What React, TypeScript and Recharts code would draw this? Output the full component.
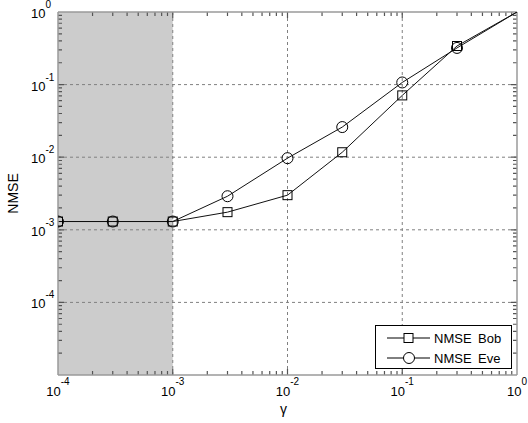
import React from 'react';
import { LineChart, Line, XAxis, YAxis, ReferenceArea, ReferenceLine, Legend } from 'recharts';

// gamma values (x) and NMSE
const gamma = [1e-4, 3e-4, 1e-3, 3e-3, 1e-2, 3e-2, 1e-1, 3e-1, 1];
const nmseBob = [1.3e-3, 1.3e-3, 1.3e-3, 1.75e-3, 3.0e-3, 1.17e-2, 0.071, 0.34, 1];
const nmseEve = [1.3e-3, 1.3e-3, 1.3e-3, 2.9e-3, 9.7e-3, 0.026, 0.107, 0.32, 1];

const xDecades = [1e-4, 1e-3, 1e-2, 1e-1, 1];
const yDecades = [1e-5, 1e-4, 1e-3, 1e-2, 1e-1, 1];
const yLabelled = [1e-4, 1e-3, 1e-2, 1e-1, 1];
const shaded = [1e-4, 1e-3];

// interior tick positions 1..9 x decade (domain ends excluded)
const tickValues = (decades: number[]) => {
  const out: number[] = [];
  decades.slice(0, -1).forEach((d, i) => {
    for (let m = i === 0 ? 2 : 1; m < 10; m++) out.push(d * m);
  });
  return out;
};
const xTickMarks = tickValues(xDecades);
const yTickMarks = tickValues(yDecades);

const data = gamma.map((g, i) => ({ gamma: g, bob: nmseBob[i], eve: nmseEve[i] }));

const FONT = '"Liberation Sans", Arial, sans-serif';
const FRAME = '#9a9a9a';
const TICK = '#555555';

const isDecade = (v: number) => Math.abs(Math.log10(v) - Math.round(Math.log10(v))) < 1e-6;

// draws only short inward pieces at both ends of the reference line
const tickPair = (len: number) => (p: any) => {
  const { x1, y1, x2, y2 } = p;
  if (Math.abs(x1 - x2) < 0.01) {
    const top = Math.min(y1, y2);
    const bot = Math.max(y1, y2);
    return <path d={`M${x1},${bot} V${bot - len} M${x1},${top} V${top + len}`} stroke={TICK} strokeWidth={1.2} fill="none" />;
  }
  const l = Math.min(x1, x2);
  const r = Math.max(x1, x2);
  return <path d={`M${l},${y1} H${l + len} M${r},${y1} H${r - len}`} stroke={TICK} strokeWidth={1.2} fill="none" />;
};

const XTick = (props: any) => {
  const { x, y, payload } = props;
  const e = Math.round(Math.log10(payload.value));
  return (
    <text x={x} y={y + 21} textAnchor="middle" fontFamily={FONT} fontSize={13} fill="#000">
      <tspan>10</tspan>
      <tspan dy={-11} fontSize={10}>{e}</tspan>
    </text>
  );
};

const YTick = (props: any) => {
  const { x, y, payload } = props;
  if (!yLabelled.includes(payload.value)) return <g />;
  const e = Math.round(Math.log10(payload.value));
  return (
    <text x={x - 27} y={y + 6} textAnchor="start" fontFamily={FONT} fontSize={13} fill="#000">
      <tspan>10</tspan>
      <tspan dy={-10} fontSize={10}>{e}</tspan>
    </text>
  );
};

const SquareDot = (props: any) => {
  const { cx, cy, payload, index } = props;
  if (payload.gamma >= 1) return <g key={`s-${index}`} />;
  return <rect key={`s-${index}`} x={cx - 4.5} y={cy - 4.5} width={9} height={9} fill="none" stroke="#000" strokeWidth={1} />;
};

const CircleDot = (props: any) => {
  const { cx, cy, payload, index } = props;
  if (payload.gamma >= 1) return <g key={`c-${index}`} />;
  return <circle key={`c-${index}`} cx={cx} cy={cy} r={5.5} fill="none" stroke="#000" strokeWidth={1} />;
};

const YLabel = (props: any) => {
  const vb = props.viewBox || {};
  const cx = 13;
  const cy = vb.y + vb.height / 2;
  return (
    <text x={cx} y={cy} transform={`rotate(-90 ${cx} ${cy})`} textAnchor="middle" dominantBaseline="central"
      fontFamily={FONT} fontSize={14} fill="#000">NMSE</text>
  );
};

const LegendBox = () => (
  <svg width={137} height={44} style={{ display: 'block' }}>
    <rect x={0.5} y={0.5} width={136} height={43} fill="#fff" stroke="#000" />
    <line x1={12} x2={55} y1={13} y2={13} stroke="#000" />
    <rect x={29} y={8.5} width={9} height={9} fill="#fff" stroke="#000" />
    <text x={59} y={18} fontFamily={FONT} fontSize={13} fill="#000">
      <tspan>NMSE</tspan>
      <tspan x={103}>Bob</tspan>
    </text>
    <line x1={12} x2={55} y1={33} y2={33} stroke="#000" />
    <circle cx={34} cy={33} r={5.5} fill="#fff" stroke="#000" />
    <text x={59} y={38} fontFamily={FONT} fontSize={13} fill="#000">
      <tspan>NMSE</tspan>
      <tspan x={103}>Eve</tspan>
    </text>
  </svg>
);

export default function App() {
  return (
    <div style={{ position: 'absolute', left: 0, top: 0, width: 528, height: 423, background: '#fff', fontFamily: FONT }}>
      <LineChart width={528} height={423} data={data} margin={{ top: 12, right: 11, left: 0, bottom: 0 }}>
        <ReferenceArea xAxisId="x" yAxisId="y" x1={shaded[0]} x2={shaded[1]} fill="#cccccc" fillOpacity={1} stroke="none" ifOverflow="hidden" />

        {/* dashed decade grid */}
        {xDecades.slice(1, -1).map((v) => (
          <ReferenceLine key={`gx-${v}`} xAxisId="x" yAxisId="y" x={v} stroke="#808080" strokeDasharray="3 3" />
        ))}
        {yDecades.slice(1, -1).map((v) => (
          <ReferenceLine key={`gy-${v}`} xAxisId="x" yAxisId="y" y={v} stroke="#808080" strokeDasharray="3 3" />
        ))}

        {/* inward tick marks on all four sides */}
        {xTickMarks.map((v) => (
          <ReferenceLine key={`tx-${v}`} xAxisId="x" yAxisId="y" x={v} stroke={TICK} shape={tickPair(isDecade(v) ? 6 : 4)} />
        ))}
        {yTickMarks.map((v) => (
          <ReferenceLine key={`ty-${v}`} xAxisId="x" yAxisId="y" y={v} stroke={TICK} shape={tickPair(isDecade(v) ? 6 : 4)} />
        ))}

        {/* top and right frame */}
        <ReferenceLine xAxisId="x" yAxisId="y" y={yDecades[yDecades.length - 1]} stroke={FRAME} strokeWidth={1.5} />
        <ReferenceLine xAxisId="x" yAxisId="y" x={xDecades[xDecades.length - 1]} stroke={FRAME} strokeWidth={1.5} />

        <XAxis
          xAxisId="x"
          dataKey="gamma"
          type="number"
          scale="log"
          domain={[1e-4, 1]}
          allowDataOverflow
          ticks={xDecades}
          tick={<XTick />}
          tickLine={false}
          tickSize={0}
          tickMargin={0}
          axisLine={{ stroke: FRAME, strokeWidth: 1.5 }}
          height={48}
          interval={0}
          label={{ value: 'γ', position: 'insideBottom', offset: 9, dx: -4, fill: '#000', fontSize: 14, fontFamily: FONT }}
        />
        <YAxis
          yAxisId="y"
          type="number"
          scale="log"
          domain={[1e-5, 1]}
          allowDataOverflow
          ticks={yDecades}
          tick={<YTick />}
          tickLine={false}
          tickSize={0}
          tickMargin={0}
          axisLine={{ stroke: FRAME, strokeWidth: 1.5 }}
          width={58}
          interval={0}
          label={<YLabel />}
        />

        <Line xAxisId="x" yAxisId="y" type="linear" dataKey="bob" name="NMSE Bob" stroke="#111" strokeWidth={1}
          dot={<SquareDot />} activeDot={false} isAnimationActive={false} />
        <Line xAxisId="x" yAxisId="y" type="linear" dataKey="eve" name="NMSE Eve" stroke="#111" strokeWidth={1}
          dot={<CircleDot />} activeDot={false} isAnimationActive={false} />

        <Legend layout="vertical" align="center" verticalAlign="middle" content={<LegendBox />}
          wrapperStyle={{ left: 375, top: 325, width: 137, height: 44 }} />
      </LineChart>
    </div>
  );
}
